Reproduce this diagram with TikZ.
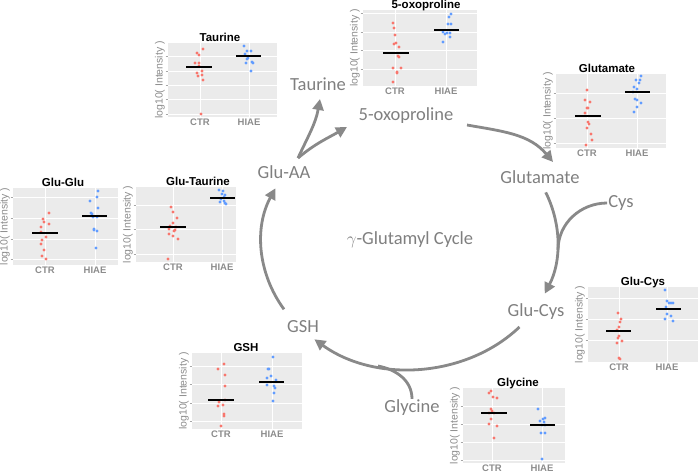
\documentclass[tikz,border=0pt]{standalone}
\usepackage{fontspec}
\setmainfont{Carlito}
\newfontfamily\plotfont{Liberation Sans}
\usetikzlibrary{arrows.meta}

\definecolor{textgray}{RGB}{127,127,127}
\definecolor{axisgray}{RGB}{140,140,140}
\definecolor{arrowgray}{RGB}{137,137,137}
\definecolor{panelbg}{RGB}{235,235,235}
\definecolor{ctrred}{RGB}{248,118,109}
\definecolor{hiaeblue}{RGB}{97,156,255}

% one small ggplot-like panel: title, left, top, right, bottom, CTR x, HIAE x, title x, grid lines
\newcommand{\dotplot}[9]{%
	\fill[panelbg] (#2,#3) rectangle (#4,#5);
	\foreach \gy in {#9} {
		\draw[gridline] (#2,\gy) -- (#4,\gy);
		\draw[tickmark] (#2-2.5,\gy) -- (#2,\gy);
	}
	\draw[gridline] (#6,#3) -- (#6,#5);
	\draw[gridline] (#7,#3) -- (#7,#5);
	\node[ptitle] (p#1) at (#8,#3-1.5) {#1};
	\node[ptick] (p#1-ctr) at (#6,#5+1) {CTR};
	\node[ptick] (p#1-hiae) at (#7,#5+1) {HIAE};
	\node[pylab] (p#1-y) at (#2-8,{(#3+#5)/2}) {log10( Intensity )};
}

\begin{document}
\begin{tikzpicture}[x=1pt, y=-1pt,
		lbl/.style={font=\fontsize{18.5}{22}\selectfont, text=textgray, inner sep=1pt},
		flow/.style={draw=arrowgray, line width=2.8pt, -{Triangle[length=11pt,width=11pt]}},
		branch/.style={draw=arrowgray, line width=2.8pt},
		gridline/.style={draw=white, line width=0.8pt},
		tickmark/.style={draw=gray!70, line width=0.4pt},
		ptitle/.style={font=\plotfont\bfseries\fontsize{11.5}{13}\selectfont, anchor=base, inner sep=0pt},
		ptick/.style={font=\plotfont\bfseries\fontsize{9.5}{11}\selectfont, text=axisgray, anchor=north, inner sep=1pt},
		pylab/.style={font=\plotfont\fontsize{10.5}{12}\selectfont, text=axisgray, rotate=90, inner sep=0pt},
		ctrdot/.style={fill=ctrred},
		hiaedot/.style={fill=hiaeblue},
		mean/.style={draw=black, line width=1.3pt}]
	\useasboundingbox (0,0) rectangle (700,474);

	% cycle labels
	\node[lbl] (taurine) at (318,84) {Taurine};
	\node[lbl] (oxo) at (406,116) {5-oxoproline};
	\node[lbl] (glutamate) at (540,177) {Glutamate};
	\node[lbl] (cys) at (621,203) {Cys};
	\node[lbl] (glucys) at (536,312) {Glu-Cys};
	\node[lbl] (gsh) at (303,327) {GSH};
	\node[lbl] (glycine) at (412,408) {Glycine};
	\node[lbl] (gluaa) at (284,172) {Glu-AA};
	\node[lbl] (cycle) at (410,240) {$\gamma$-Glutamyl Cycle};

	% the cycle
	\coordinate (cyc) at (409.5,242);
	\path (cyc) ++(-23:148 and 127) coordinate (glut-out);
	\path (cyc) ++(42:148 and 127) coordinate (glucys-out);
	\path (cyc) ++(148:148 and 127) coordinate (gsh-out);
	\coordinate (aa-out) at (298,158);
	\coordinate (tau-in) at (320,99);
	\coordinate (oxo-in) at (347,127);
	\coordinate (oxo-out) at (467,125);
	\coordinate (glut-in) at (553,162);
	\coordinate (cys-join) at (558,250);
	\coordinate (gly-join) at (378,366);

	\draw[flow] (glut-out) arc[start angle=-23, end angle=24, x radius=148, y radius=127];
	\draw[flow] (glucys-out) arc[start angle=42, end angle=130, x radius=148, y radius=127];
	\draw[flow] (gsh-out) arc[start angle=148, end angle=205, x radius=148, y radius=127];
	\draw[flow] (aa-out) to[out=65, in=-100] (tau-in);
	\draw[flow] (aa-out) to[out=40, in=-150] (oxo-in);
	\draw[flow] (oxo-out) to[out=-10, in=130] (glut-in);
	\draw[branch] (cys.west) to[out=180, in=90] (cys-join);
	\draw[branch] (glycine.north) to[out=90, in=-11] (gly-join);

	% Taurine
	\dotplot{Taurine}{168}{43}{277}{117}{200}{249}{220}{56,71,85,99,114}
	\foreach \p in {(203,49),(197,53),(199,55),(195,63),(199,63),(199,66),(202,71),(197,73),(198,76),(202,75),(203,80),(201,114)}
		\fill[ctrdot] \p circle (1.6pt);
	\foreach \p in {(244,46),(247,51),(245,54),(251,51),(248,58),(246,63),(252,62),(253,63),(251,71),(247,59)}
		\fill[hiaedot] \p circle (1.6pt);
	\draw[mean] (186,67) -- (212,67);
	\draw[mean] (236,56) -- (261,56);

	% 5-oxoproline
	\dotplot{5-oxoproline}{363}{10}{477}{86}{395}{446}{426}{13,32,50,69}
	\foreach \p in {(393,23),(394,28),(395,35),(396,43),(394,44),(399,47),(398,56),(399,57),(393,68),(401,68),(397,72),(397,73),(393,82)}
		\fill[ctrdot] \p circle (1.6pt);
	\foreach \p in {(451,14),(449,17),(448,24),(451,24),(443,32),(447,33),(450,33),(445,34),(450,37),(443,42)}
		\fill[hiaedot] \p circle (1.6pt);
	\draw[mean] (383,53) -- (409,53);
	\draw[mean] (434,30) -- (459,30);

	% Glutamate
	\dotplot{Glutamate}{556}{74}{666}{148}{587}{637}{607}{93,118,143}
	\foreach \p in {(587,90),(585,100),(590,102),(587,108),(588,108),(585,113),(588,122),(589,124),(587,128),(591,134),(592,140),(586,145)}
		\fill[ctrdot] \p circle (1.6pt);
	\foreach \p in {(641,76),(636,80),(640,80),(639,83),(634,87),(637,89),(633,92),(635,99),(637,100),(641,103),(637,107),(634,112)}
		\fill[hiaedot] \p circle (1.6pt);
	\draw[mean] (575,116) -- (601,116);
	\draw[mean] (625,92) -- (650,92);

	% Glu-Glu
	\dotplot{Glu-Glu}{13}{188}{118}{265}{45}{95}{63}{197,218,239,259}
	\foreach \p in {(49,213),(43,219),(44,222),(49,224),(41,227),(41,232),(46,237),(42,240),(41,244),(44,250),(42,256),(46,259)}
		\fill[ctrdot] \p circle (1.6pt);
	\foreach \p in {(98,191),(97,197),(90,201),(98,208),(91,213),(92,214),(97,217),(93,217),(94,229),(94,230),(97,231),(96,248)}
		\fill[hiaedot] \p circle (1.6pt);
	\draw[mean] (32,233) -- (58,233);
	\draw[mean] (82,216) -- (107,216);

	% Glu-Taurine
	\dotplot{Glu-Taurine}{136}{187}{236}{262}{173}{222}{198}{205,229,254}
	\foreach \p in {(171,207),(173,212),(177,218),(173,223),(170,226),(176,227),(169,229),(175,230),(174,231),(169,234),(173,236),(178,239),(168,259)}
		\fill[ctrdot] \p circle (1.6pt);
	\foreach \p in {(219,190),(223,191),(222,194),(225,195),(224,197),(221,199),(220,202),(225,203),(226,204),(224,201)}
		\fill[hiaedot] \p circle (1.6pt);
	\draw[mean] (160,227) -- (186,227);
	\draw[mean] (210,198) -- (235,198);

	% Glu-Cys
	\dotplot{Glu-Cys}{588}{287}{698}{362}{619}{667}{643}{298,319,340}
	\foreach \p in {(618,313),(621,319),(620,322),(619,327),(617,330),(619,336),(618,338),(622,341),(617,343),(619,358),(620,359)}
		\fill[ctrdot] \p circle (1.6pt);
	\foreach \p in {(665,290),(667,301),(669,303),(671,303),(673,303),(666,307),(667,314),(671,316),(665,319),(673,321)}
		\fill[hiaedot] \p circle (1.6pt);
	\draw[mean] (606,331) -- (631,331);
	\draw[mean] (656,309) -- (681,309);

	% GSH
	\dotplot{GSH}{192}{353}{302}{429}{221}{272}{246}{366,384,403,421}
	\foreach \p in {(224,364),(218,369),(225,375),(225,386),(225,400),(219,402),(218,406),(223,405),(224,414),(224,416),(221,426)}
		\fill[ctrdot] \p circle (1.6pt);
	\foreach \p in {(273,357),(268,369),(269,369),(271,376),(267,378),(276,380),(267,385),(274,386),(275,388),(274,393),(273,401)}
		\fill[hiaedot] \p circle (1.6pt);
	\draw[mean] (208,400) -- (234,400);
	\draw[mean] (259,382) -- (284,382);

	% Glycine
	\dotplot{Glycine}{463}{388}{565}{463}{492}{542}{518}{406,424,442,460}
	\foreach \p in {(491,391),(489,393),(493,397),(497,398),(491,409),(492,411),(489,413),(494,413),(491,419),(489,424),(497,426),(494,438)}
		\fill[ctrdot] \p circle (1.6pt);
	\foreach \p in {(538,409),(545,418),(543,419),(540,421),(544,422),(542,425),(545,425),(541,433),(545,433),(542,459)}
		\fill[hiaedot] \p circle (1.6pt);
	\draw[mean] (481,413) -- (507,413);
	\draw[mean] (530,425) -- (555,425);
\end{tikzpicture}
\end{document}
